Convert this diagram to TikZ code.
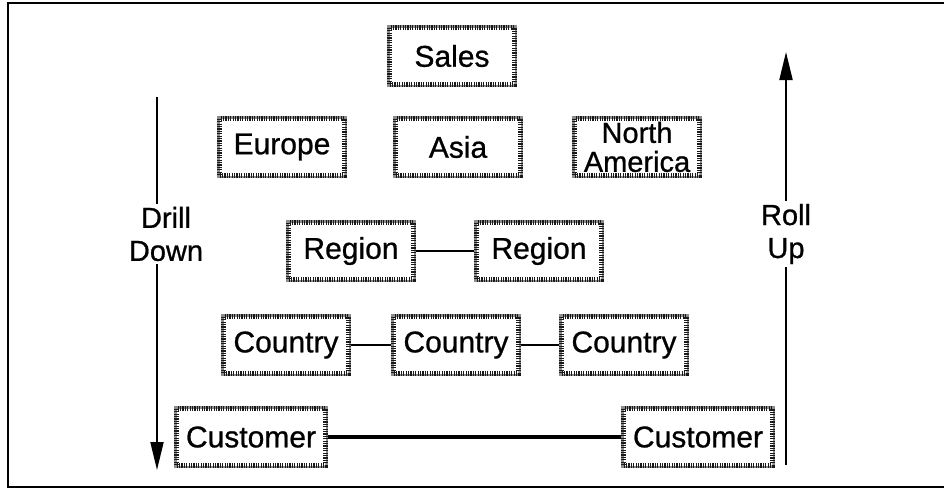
\documentclass[tikz,border=0pt]{standalone}
\usepackage{fontspec}
\setmainfont{Liberation Sans}[FakeBold=0.8]
\usetikzlibrary{arrows.meta}
\begin{document}
\begin{tikzpicture}[x=1pt,y=-1pt,
  box/.style={draw=black!90,line width=4.4pt,dash pattern=on 1.2pt off 1.2pt,fill=white,
    preaction={draw=black!45,line width=4.4pt,solid},
    minimum width=125pt,minimum height=57pt,inner sep=0pt,align=center,
    font=\fontsize{30}{27}\selectfont},
  wide/.style={box,minimum width=149pt},
  link/.style={draw=black,line width=2.2pt},
  thick link/.style={draw=black,line width=3.2pt},
  side/.style={fill=white,align=center,inner sep=3pt,font=\fontsize{29}{33}\selectfont},
  updown/.style={draw=black,line width=2pt,-{Triangle[width=13pt,length=28pt]}}]
\useasboundingbox (0,0) rectangle (944,490);
\draw[line width=1.8pt] (944,3) -- (8,3) -- (8,487) -- (944,487);
% nodes
\node[box] (sales) at (452,56) {Sales};
\node[box] (europe) at (282,147) {Europe};
\node[box] (asia) at (458,147) {Asia};
\node[box,font=\fontsize{29}{29}\selectfont] (na) at (637,147) {North\\America};
\node[box] (reg1) at (351,251) {Region};
\node[box] (reg2) at (539,251) {Region};
\node[box] (c1) at (286,345) {Country};
\node[box] (c2) at (456,345) {Country};
\node[box] (c3) at (624,345) {Country};
\node[wide] (cu1) at (251,437) {Customer};
\node[wide] (cu2) at (698,437) {Customer};
% connectors
\draw[link] (reg1) -- (reg2);
\draw[link] (c1) -- (c2);
\draw[link] (c2) -- (c3);
\draw[thick link] (cu1) -- (cu2);
% side arrows
\coordinate (ddtop) at (157,97);
\coordinate (ddbot) at (157,470);
\coordinate (rubot) at (786,465);
\coordinate (rutop) at (786,52);
\draw[updown] (ddtop) -- (ddbot);
\draw[updown] (rubot) -- (rutop);
\node[side] (dd) at (166,234) {Drill\\Down};
\node[side] (ru) at (786,234) {Roll\\Up};
\end{tikzpicture}
\end{document}
